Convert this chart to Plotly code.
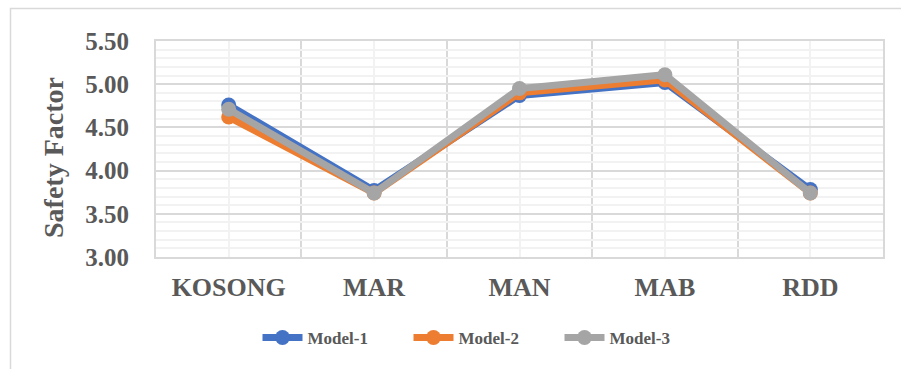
import plotly.graph_objects as go

# Safety factor per case, three models
categories = ["KOSONG", "MAR", "MAN", "MAB", "RDD"]
model_1 = [4.76, 3.77, 4.87, 5.02, 3.78]
model_2 = [4.62, 3.74, 4.90, 5.05, 3.74]
model_3 = [4.71, 3.74, 4.95, 5.11, 3.74]
series_names = ["Model-1", "Model-2", "Model-3"]
series_colors = ["#4472C4", "#ED7D31", "#A5A5A5"]

x_pos = list(range(len(categories)))
FONT = "Liberation Serif"
TEXT = "#595959"

# plot-area geometry in pixels
L, R, T, B = 156, 18, 41, 112
PW, PH = 901 - L - R, 369 - T - B

fig = go.Figure()
for name, vals, col in zip(series_names, [model_1, model_2, model_3], series_colors):
    fig.add_trace(go.Scatter(
        x=x_pos, y=vals, name=name, mode="lines+markers",
        line=dict(color=col, width=7),
        marker=dict(color=col, size=15, symbol="circle"),
    ))

fig.update_layout(
    width=901, height=369,
    margin=dict(l=L, r=R, t=T, b=B),
    paper_bgcolor="white", plot_bgcolor="white",
    font=dict(family=FONT, color=TEXT),
    showlegend=True,
    legend=dict(
        orientation="h", x=(484 - L) / PW, xanchor="center",
        y=(PH + T - 338) / PH, yanchor="middle",
        font=dict(family=FONT, size=17, color=TEXT, weight="bold"),
        itemwidth=40, entrywidth=96, entrywidthmode="pixels",
    ),
    xaxis=dict(
        range=[-0.5, len(categories) - 0.5],
        tickmode="array", tickvals=x_pos, ticktext=categories,
        showgrid=True, gridcolor="#F2F2F2", gridwidth=2,
        minor=dict(tickmode="array",
                   tickvals=[i - 0.5 for i in range(len(categories) + 1)],
                   showgrid=True, gridcolor="#D9D9D9", gridwidth=2, ticks=""),
        ticks="", ticklabelstandoff=6,
        tickfont=dict(family=FONT, size=26, color=TEXT, weight="bold"),
        showline=True, linecolor="#D9D9D9", linewidth=2, mirror=True,
        zeroline=False, fixedrange=True,
    ),
    yaxis=dict(
        range=[3.0, 5.5], tick0=3.0, dtick=0.5, tickformat=".2f",
        showgrid=True, gridcolor="#D9D9D9", gridwidth=2,
        minor=dict(dtick=0.1, tick0=3.0, showgrid=True, gridcolor="#F2F2F2",
                   gridwidth=2, ticks=""),
        ticks="", ticklabelstandoff=20,
        tickfont=dict(family=FONT, size=25, color=TEXT, weight="bold"),
        showline=True, linecolor="#D9D9D9", linewidth=2, mirror=True,
        zeroline=False, fixedrange=True,
    ),
    annotations=[dict(
        text="Safety Factor", textangle=-90, showarrow=False,
        xref="paper", yref="paper",
        x=(53 - L) / PW, y=(PH + T - 157) / PH,
        xanchor="center", yanchor="middle",
        font=dict(family=FONT, size=28, color=TEXT, weight="bold"),
    )],
    shapes=[dict(
        type="rect", xref="paper", yref="paper",
        x0=(10.5 - L) / PW, x1=1.2, y0=-0.8, y1=(PH + T - 8.5) / PH,
        line=dict(color="#D9D9D9", width=1.5), fillcolor="rgba(0,0,0,0)",
        layer="below",
    )],
)

fig.write_html("out.html")
